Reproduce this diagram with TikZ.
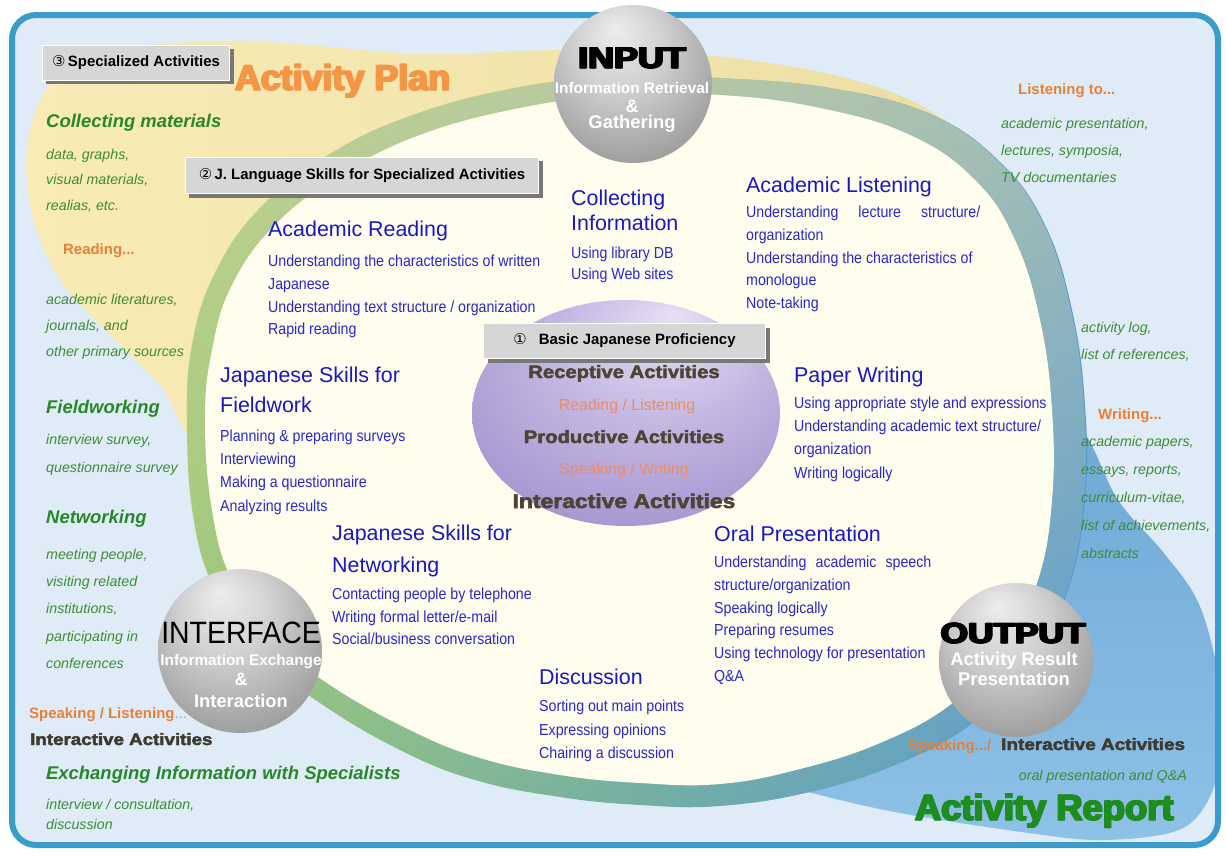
\documentclass[tikz,border=0pt]{standalone}
\usepackage{fontspec}
\setmainfont{Liberation Sans}
\newfontfamily\sym{DejaVu Sans}
\newfontfamily\heavy{Liberation Sans Bold}[FakeBold=2.5]
\usetikzlibrary{shadows,fadings}
\definecolor{bgblue}{RGB}{223,236,247}
\definecolor{border}{RGB}{58,156,204}
\definecolor{yelA}{RGB}{248,235,182}
\definecolor{yelB}{RGB}{236,222,162}
\definecolor{ringgreen}{RGB}{148,198,118}
\definecolor{ringmid}{RGB}{125,182,150}
\definecolor{ringblue}{RGB}{85,153,210}
\definecolor{cream}{RGB}{254,253,238}
\definecolor{swA}{RGB}{108,166,213}
\definecolor{swB}{RGB}{142,193,230}
\definecolor{headblue}{RGB}{25,25,195}
\definecolor{bodyblue}{RGB}{40,40,205}
\definecolor{gtext}{RGB}{62,140,52}
\definecolor{gbold}{RGB}{40,135,40}
\definecolor{otxt}{RGB}{232,128,56}
\definecolor{planorange}{RGB}{245,150,70}
\definecolor{reportgreen}{RGB}{30,140,30}
\definecolor{darktxt}{RGB}{62,58,48}
\definecolor{ctxt}{RGB}{78,68,52}
\definecolor{corange}{RGB}{238,140,100}
\definecolor{lblgray}{RGB}{214,214,214}
\definecolor{shadowgray}{RGB}{120,120,120}
\newcommand\wide[2]{\scalebox{#1}[1]{#2}}
\newcommand\fs[2]{\fontsize{#1}{#2}\selectfont}
\newcommand\sq[1]{\scalebox{0.89}[1]{\begin{tabular}{@{}l@{}}#1\end{tabular}}}
\newcommand\emb[1]{\makebox[0pt][l]{#1}\kern0.7bp\makebox[0pt][l]{#1}\kern0.7bp#1}
\tikzfading[name=topfade, top color=transparent!45, middle color=transparent!100, bottom color=transparent!100]
\pgfdeclareradialshading{graysphere}{\pgfpoint{-6bp}{18bp}}{rgb(0bp)=(0.93,0.93,0.93); rgb(14bp)=(0.82,0.82,0.82); rgb(32bp)=(0.62,0.62,0.62); rgb(45bp)=(0.42,0.42,0.42); rgb(50bp)=(0.34,0.34,0.34)}
\pgfdeclareradialshading{lavender}{\pgfpoint{8bp}{22bp}}{rgb(0bp)=(0.90,0.88,0.96); rgb(18bp)=(0.76,0.71,0.88); rgb(38bp)=(0.62,0.56,0.80); rgb(50bp)=(0.55,0.48,0.75)}
\begin{document}
\begin{tikzpicture}[x=1bp, y=-1bp,
  body/.style={anchor=north west, inner sep=0pt, text=bodyblue, font=\fs{16}{23}},
  head/.style={anchor=north west, inner sep=0pt, align=left, text=headblue, font=\fs{21.5}{30}},
  gi/.style={anchor=north west, inner sep=0pt, align=left, text=gtext, font=\itshape\fs{14.3}{27.5}},
  gb/.style={anchor=north west, inner sep=0pt, text=gbold, font=\bfseries\itshape\fs{18.5}{22}},
  ob/.style={anchor=north west, inner sep=0pt, text=otxt, font=\bfseries\fs{15}{18}},
  lbl/.style={fill=lblgray, draw=white, line width=1pt, anchor=north west,
    drop shadow={shadow xshift=4bp, shadow yshift=-4bp, fill=shadowgray, opacity=1},
    inner sep=0pt, font=\bfseries\fs{15}{17}},
  ballw/.style={text=white, inner sep=0pt, anchor=base},
  ctr/.style={inner sep=0pt, anchor=base}
]
\useasboundingbox (0,0) rectangle (1226,857);
\fill[white] (0,0) rectangle (1226,857);
\begin{scope}
\clip[rounded corners=24bp] (12,15) rectangle (1218,845);
\fill[bgblue] (0,0) rectangle (1226,857);
% Activity Plan (yellow) region
\shade[left color=yelA, right color=yelB] plot[smooth cycle, tension=0.6] coordinates {
 (205,440) (160,385) (105,330) (60,280) (32,215) (28,140) (55,80) (130,48) (260,42)
 (420,54) (560,50) (700,55) (820,72) (910,100) (975,145) (1000,190) (900,260) (600,300) (300,330)};
% Activity Report (blue) region
\shade[top color=swA, bottom color=swB] plot[smooth cycle, tension=0.6] coordinates {
 (1040,415) (1082,430) (1118,500) (1163,552) (1198,602) (1217,668) (1222,720) (1216,780)
 (1196,818) (1165,834) (1100,840) (1036,834) (900,813) (800,790) (740,772) (760,700) (950,600)};
% ring
\shade[left color=ringgreen, middle color=ringmid, right color=ringblue] plot[smooth cycle, tension=0.7] coordinates {
 (187,420) (193,515) (215,590) (260,655) (320,703) (400,750) (475,780) (560,797) (640,805)
 (720,806) (810,792) (895,765) (970,725) (1030,665) (1068,590) (1085,500) (1085,405)
 (1072,310) (1045,225) (1000,162) (930,114) (830,88) (720,78) (620,76) (515,88) (410,116)
 (325,157) (258,210) (214,275) (192,345)};
\fill[yelB, path fading=topfade] plot[smooth cycle, tension=0.7] coordinates {
 (187,420) (193,515) (215,590) (260,655) (320,703) (400,750) (475,780) (560,797) (640,805)
 (720,806) (810,792) (895,765) (970,725) (1030,665) (1068,590) (1085,500) (1085,405)
 (1072,310) (1045,225) (1000,162) (930,114) (830,88) (720,78) (620,76) (515,88) (410,116)
 (325,157) (258,210) (214,275) (192,345)};
\fill[cream] plot[smooth cycle, tension=0.7] coordinates {
 (205,420) (212,510) (232,580) (275,640) (330,685) (410,730) (480,758) (560,775) (640,783)
 (720,784) (800,769) (880,743) (950,705) (1005,650) (1038,580) (1052,500) (1052,410)
 (1040,320) (1015,240) (975,180) (910,135) (820,108) (720,95) (620,95) (520,108) (420,135)
 (340,175) (275,225) (232,285) (212,350)};
\end{scope}
\draw[border, line width=6bp, rounded corners=24bp] (12,15) rectangle (1218,845);

% central purple ellipse
\shade[shading=lavender] (626,413) ellipse [x radius=154bp, y radius=113bp];

% gray spheres
\shade[shading=graysphere] (633,84) circle (79bp);
\shade[shading=graysphere] (240,651) circle (82bp);
\shade[shading=graysphere] (1016,660) circle (77bp);

% label boxes
\node[lbl, minimum width=187bp, minimum height=35bp] (lab3) at (42,45) {{\sym\mdseries ③}\,Specialized Activities};
\node[lbl, minimum width=353bp, minimum height=36bp] (lab2) at (185,157) {{\sym\mdseries ②}\,J. Language Skills for Specialized Activities};
\node[lbl, minimum width=282bp, minimum height=35bp] (lab1) at (483,323) {{\sym\mdseries ①}\hspace{12bp}Basic Japanese Proficiency};

% big titles
\node[anchor=base west, inner sep=0pt, text=planorange, font=\heavy\fs{36}{40}] (plan) at (234,90) {\emb{Activity Plan}};
\node[anchor=base west, inner sep=0pt, text=reportgreen, font=\heavy\fs{36.5}{40}] (report) at (914,820) {\emb{Activity Report}};

% INPUT ball texts
\node[ctr, font=\heavy\fs{30}{32}] (inT) at (632,68) {\wide{1.2}{\emb{INPUT}}};
\node[ballw, font=\bfseries\fs{15.5}{18}] (in1) at (632,93) {Information Retrieval};
\node[ballw, font=\bfseries\fs{18}{20}] (in2) at (632,112) {\&};
\node[ballw, font=\bfseries\fs{18.5}{20}] (in3) at (632,128) {Gathering};
% INTERFACE ball texts
\node[ctr, font=\fs{31}{33}] (ifT) at (241,643) {\wide{0.92}{INTERFACE}};
\node[ballw, font=\bfseries\fs{15.4}{18}] (if1) at (241,665) {Information Exchange};
\node[ballw, font=\bfseries\fs{18}{20}] (if2) at (241,685) {\&};
\node[ballw, font=\bfseries\fs{18.4}{20}] (if3) at (241,707) {Interaction};
% OUTPUT ball texts
\node[ctr, font=\heavy\fs{29}{32}] (outT) at (1013,643) {\wide{1.22}{\emb{OUTPUT}}};
\node[ballw, font=\bfseries\fs{18.4}{20}] (out1) at (1014,665) {Activity Result};
\node[ballw, font=\bfseries\fs{18.5}{20}] (out2) at (1014,685) {Presentation};

% centre ellipse texts
\node[ctr, text=ctxt, font=\heavy\fs{18}{20}] (c1) at (624,378) {\wide{1.13}{Receptive Activities}};
\node[ctr, text=corange, font=\fs{16}{18}] (c2) at (627,410) {Reading / Listening};
\node[ctr, text=ctxt, font=\heavy\fs{18}{20}] (c3) at (624,443) {\wide{1.13}{Productive Activities}};
\node[ctr, text=corange, font=\fs{16}{18}] (c4) at (624,474) {Speaking / Writing};
\node[ctr, text=ctxt, font=\heavy\fs{20}{22}] (c5) at (624,508) {\wide{1.15}{Interactive Activities}};

% blue skill blocks
\node[head, font=\fs{21.5}{25}] (h1) at (571,190) {Collecting\\Information};
\node[body, font=\fs{16}{21.5}] (b1) at (571,243) {\sq{Using library DB\\Using Web sites}};
\node[head] (h2) at (268,221) {Academic Reading};
\node[body] (b2) at (268,250) {\sq{Understanding the characteristics of written\\Japanese\\Understanding text structure / organization\\Rapid reading}};
\node[head] (h3) at (746,177) {Academic Listening};
\node[body] (b3) at (746,201) {\sq{\makebox[263bp][s]{Understanding lecture structure/}\\organization\\Understanding the characteristics of\\monologue\\Note-taking}};
\node[head] (h4) at (220,367) {Japanese Skills for\\Fieldwork};
\node[body, font=\fs{16}{23.3}] (b4) at (220,425) {\sq{Planning \& preparing surveys\\Interviewing\\Making a questionnaire\\Analyzing results}};
\node[head] (h5) at (794,367) {Paper Writing};
\node[body, font=\fs{16}{23.3}] (b5) at (794,392) {\sq{Using appropriate style and expressions\\Understanding academic text structure/\\organization\\Writing logically}};
\node[head, font=\fs{21.5}{32}] (h6) at (332,525) {Japanese Skills for\\Networking};
\node[body, font=\fs{16}{22.5}] (b6) at (332,584) {\sq{Contacting people by telephone\\Writing formal letter/e-mail\\Social/business conversation}};
\node[head] (h7) at (714,526) {Oral Presentation};
\node[body] (b7) at (714,551) {\sq{\makebox[244bp][s]{Understanding academic speech}\\structure/organization\\Speaking logically\\Preparing resumes\\Using technology for presentation\\Q\&A}};
\node[head] (h8) at (539,669) {Discussion};
\node[body, font=\fs{16}{23.5}] (b8) at (539,695) {\sq{Sorting out main points\\Expressing opinions\\Chairing a discussion}};

% left column
\node[gb] (l1) at (46,113.5) {Collecting materials};
\node[gi, font=\itshape\fs{14.3}{26}] (l2) at (46,148.5) {data, graphs,\\visual materials,\\realias, etc.};
\node[ob] (l3) at (63,243) {Reading...};
\node[gi, font=\itshape\fs{14.3}{26.5}] (l4) at (46,293.5) {academic literatures,\\journals, and\\other primary sources};
\node[gb] (l5) at (46,399.5) {Fieldworking};
\node[gi, font=\itshape\fs{14.3}{29}] (l6) at (46,433.5) {interview survey,\\questionnaire survey};
\node[gb] (l7) at (46,509.5) {Networking};
\node[gi] (l8) at (46,548.5) {meeting people,\\visiting related\\institutions,\\participating in\\conferences};
\node[ob] (l9) at (29,707) {Speaking / Listening{\color{gray!70}\mdseries...}};
\node[anchor=base west, inner sep=0pt, text=darktxt, font=\heavy\fs{16.5}{18}] (l10) at (30,745) {\wide{1.14}{Interactive Activities}};
\node[gb] (l11) at (46,765.5) {Exchanging Information with Specialists};
\node[gi, font=\itshape\fs{14.3}{21}] (l12) at (46,798.5) {interview / consultation,\\discussion};

% right column
\node[ob] (r1) at (1018,83) {Listening to...};
\node[gi] (r2) at (1001,117.5) {academic presentation,\\lectures, symposia,\\TV documentaries};
\node[gi, font=\itshape\fs{14.3}{28}] (r3) at (1081,321.5) {activity log,\\list of references,};
\node[ob] (r4) at (1098,408) {Writing...};
\node[gi, font=\itshape\fs{14.3}{28.2}] (r5) at (1081,435.5) {academic papers,\\essays, reports,\\curriculum-vitae,\\list of achievements,\\abstracts};
\node[anchor=base west, inner sep=0pt, text=otxt, font=\bfseries\fs{15}{18}] (r6) at (908,750) {Speaking.../};
\node[anchor=base west, inner sep=0pt, text=darktxt, font=\heavy\fs{16.5}{18}] (r7) at (1001,750) {\wide{1.15}{Interactive Activities}};
\node[anchor=base east, inner sep=0pt, text=gtext, font=\itshape\fs{14.3}{18}] (r8) at (1187,780) {oral presentation and Q\&A};
\end{tikzpicture}
\end{document}
